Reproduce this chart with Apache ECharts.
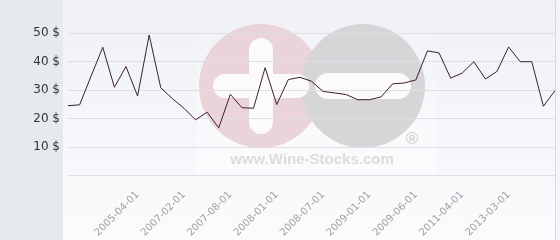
<!DOCTYPE html>
<html><head><meta charset="utf-8">
<script src="https://cdn.jsdelivr.net/npm/echarts@6/dist/echarts.min.js"></script>
<style>html,body{margin:0;padding:0;background:#fff}#c{width:560px;height:240px}</style>
</head><body><div id="c"></div>
<script>
const categories = ["","","","","","","2005-04-01","","","","2007-02-01","","","","2007-08-01","","","","2008-01-01","","","","2008-07-01","","","","2009-01-01","","","","2009-06-01","","","","2011-04-01","","","","2013-03-01","","","",""];
const prices = [24.5,24.8,35.0,45.1,31.0,38.3,27.9,49.4,30.8,27.0,23.6,19.5,22.2,16.7,28.5,23.8,23.6,37.9,24.9,33.7,34.5,33.1,29.5,29.0,28.4,26.6,26.6,27.6,32.2,32.5,33.6,43.8,43.1,34.2,36.0,40.0,33.9,36.6,45.2,40.0,40.0,24.3,29.8];
const yTicks = [0,10,20,30,40,50];

const chart = echarts.init(document.getElementById('c'), null, {renderer:'canvas'});
const FONT = 'DejaVu Sans';
chart.setOption({
  animation:false,
  textStyle:{fontFamily:FONT},
  graphic:[
    {type:'rect', z:0, shape:{x:0,y:0,width:63,height:240}, style:{fill:'#e6eaed'}},
    {type:'rect', z:0, shape:{x:63,y:0,width:492,height:240}, style:{fill:new echarts.graphic.LinearGradient(0,0,0,1,[{offset:0,color:'#eff1f6'},{offset:1,color:'#fbfbfd'}])}},
    {type:'rect', z:0, shape:{x:555,y:0,width:1,height:240}, style:{fill:'#d9dade'}},
    {type:'rect', z:0, shape:{x:556,y:0,width:4,height:240}, style:{fill:'#f4f5f8'}},
    {type:'rect', z:1, shape:{x:197,y:16,width:240,height:158}, style:{fill:new echarts.graphic.LinearGradient(0,0,0,1,[{offset:0,color:'rgba(255,255,255,0)'},{offset:1,color:'rgba(255,255,255,0.5)'}])}},
    {type:'circle', z:1, shape:{cx:261,cy:86,r:62}, style:{fill:'#ead3d9'}},
    {type:'circle', z:1, shape:{cx:363,cy:86,r:62}, style:{fill:'#d6d6d8'}},
    {type:'rect', z:1, shape:{x:249,y:38,width:24,height:96,r:12}, style:{fill:'#fbfbfc'}},
    {type:'rect', z:1, shape:{x:213,y:74,width:96,height:24,r:12}, style:{fill:'#fbfbfc'}},
    {type:'rect', z:1, shape:{x:315,y:73,width:96,height:26,r:13}, style:{fill:'#fbfbfc'}},
    {type:'text', z:1, x:412, y:139, style:{text:'®', fill:'#d2d2d4', font:'bold 17px "Liberation Sans"', align:'center', verticalAlign:'middle'}},
    {type:'text', z:1, x:312, y:160, style:{text:'www.Wine-Stocks.com', fill:'#dcdcde', font:'bold 15px "Liberation Sans"', align:'center', verticalAlign:'middle'}}
  ],
  grid:{left:68, right:5, top:33.3, bottom:61.7, containLabel:false},
  xAxis:{
    type:'category', data:categories, boundaryGap:false, z:3,
    axisLine:{show:false}, axisTick:{show:false}, splitLine:{show:false},
    axisLabel:{interval:0, rotate:45, fontSize:10, color:'#a0a0a4', margin:18, fontFamily:FONT}
  },
  yAxis:{
    type:'value', min:yTicks[0], max:yTicks[yTicks.length-1], interval:10, z:3,
    axisLine:{show:false}, axisTick:{show:false},
    splitLine:{lineStyle:{color:'#dedfe3', width:1}},
    axisLabel:{fontSize:12, color:'#333', margin:8, fontFamily:FONT, formatter:v=> v===0 ? '' : v + ' $'}
  },
  series:[{type:'line', data:prices, z:5, symbol:'none', lineStyle:{color:'#3d1f2f', width:1}}]
});
</script></body></html>
